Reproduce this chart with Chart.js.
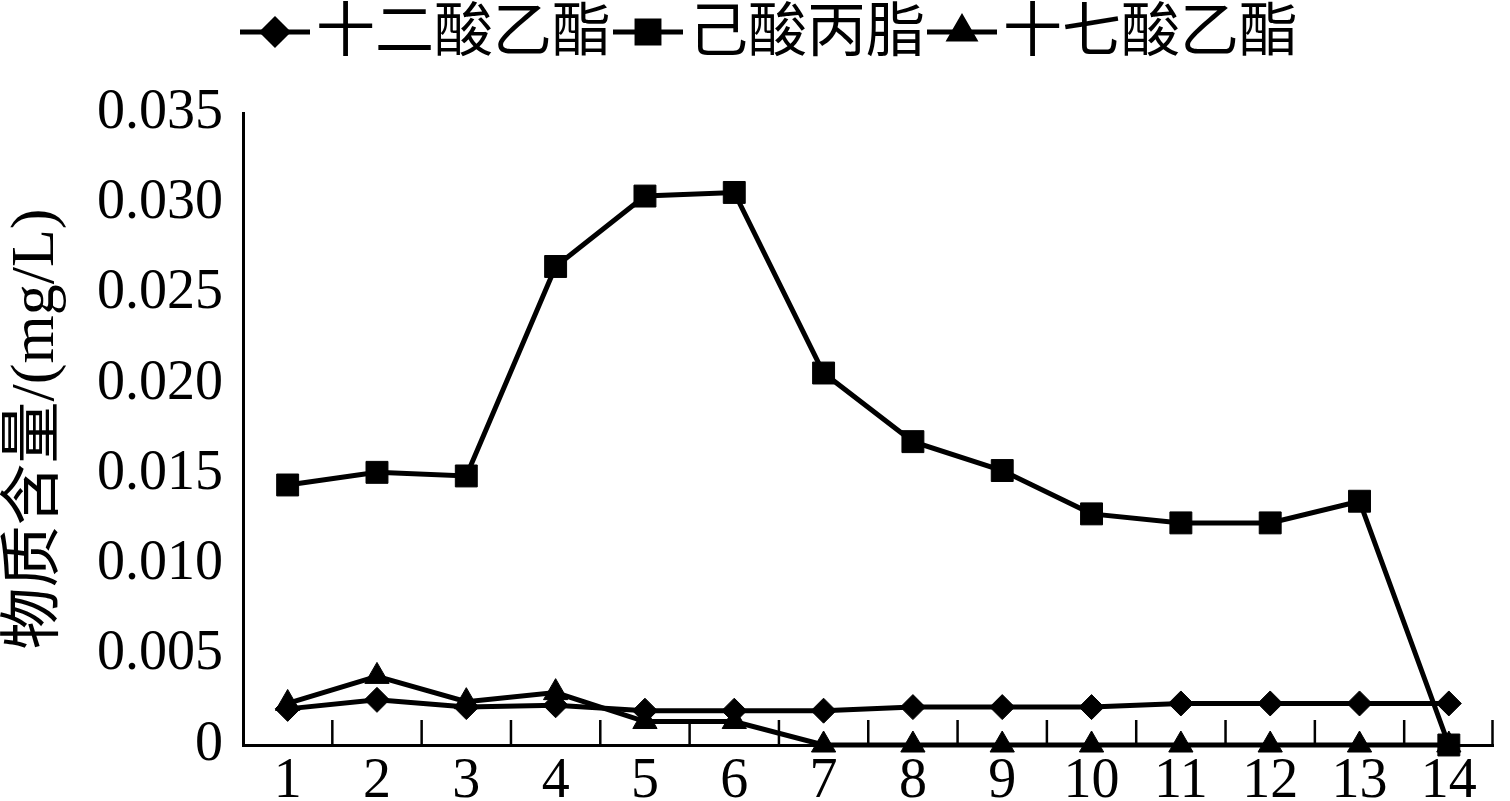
<!DOCTYPE html>
<html>
<head>
<meta charset="utf-8">
<script src="https://cdn.jsdelivr.net/npm/chart.js@4/dist/chart.umd.min.js"></script>
<style>
    html, body { margin: 0; padding: 0; background: #fff; }
</style>
</head>
<body>
<canvas id="chart" width="1510" height="801"></canvas>
<script>
const samples = ['1', '2', '3', '4', '5', '6', '7', '8', '9', '10', '11', '12', '13', '14'];
const ethylLaurate = [0.0020, 0.0025, 0.0021, 0.0022, 0.0019, 0.0019, 0.0019, 0.0021, 0.0021, 0.0021, 0.0023, 0.0023, 0.0023, 0.0023];
const propylHexanoate = [0.0144, 0.0151, 0.0149, 0.0265, 0.0304, 0.0306, 0.0206, 0.0168, 0.0152, 0.0128, 0.0123, 0.0123, 0.0135, 0];
const ethylHeptadecanoate = [0.0023, 0.0038, 0.0024, 0.0029, 0.0013, 0.0013, 0, 0, 0, 0, 0, 0, 0, 0];
const seriesNames = ['十二酸乙酯', '己酸丙脂', '十七酸乙酯'];
const yTickLabels = ['0', '0.005', '0.010', '0.015', '0.020', '0.025', '0.030', '0.035'];
const yTitle = '物质含量/(mg/L)';

const serifFont = "'Liberation Serif', 'Noto Sans CJK SC', serif";
const cjkFont = "'Noto Sans CJK SC', sans-serif";

function makeDataset(label, data, pointStyle, radius) {
    return {
        label: label,
        data: data,
        borderColor: '#000',
        backgroundColor: '#000',
        borderWidth: 5,
        pointStyle: pointStyle,
        pointRadius: radius,
        pointHoverRadius: radius,
        pointBorderWidth: 1,
        pointBorderColor: '#000',
        pointBackgroundColor: '#000',
        tension: 0,
        clip: false
    };
}

// short ticks pointing up from the x axis, between categories
const innerTicks = {
    id: 'innerTicks',
    beforeDatasetsDraw(chart) {
        const ctx = chart.ctx;
        const x = chart.scales.x;
        const bottom = chart.chartArea.bottom;
        ctx.save();
        ctx.strokeStyle = '#000';
        ctx.lineWidth = 2.5;
        for (let i = 1; i <= samples.length; i++) {
            const px = i < samples.length
                ? (x.getPixelForValue(i - 1) + x.getPixelForValue(i)) / 2
                : chart.chartArea.right - 1;
            ctx.beginPath();
            ctx.moveTo(px, bottom);
            ctx.lineTo(px, bottom - 25);
            ctx.stroke();
        }
        ctx.restore();
    }
};

// legend: line with marker, then name
const lineLegend = {
    id: 'lineLegend',
    afterDraw(chart) {
        const ctx = chart.ctx;
        const y = 32;
        let x = 240;
        ctx.save();
        ctx.font = '59px ' + cjkFont;
        ctx.textBaseline = 'middle';
        ctx.fillStyle = '#000';
        chart.data.datasets.forEach(ds => {
            ctx.strokeStyle = '#000';
            ctx.lineWidth = 5;
            ctx.beginPath();
            ctx.moveTo(x, y);
            ctx.lineTo(x + 70, y);
            ctx.stroke();
            Chart.helpers.drawPoint(ctx, {
                pointStyle: ds.pointStyle,
                radius: ds.pointRadius,
                borderWidth: 1
            }, x + 35, y);
            ctx.fill();
            x += 76;
            ctx.fillText(ds.label, x, y - 3);
            x += ctx.measureText(ds.label).width + 2;
        });
        ctx.restore();
    }
};

new Chart(document.getElementById('chart'), {
    type: 'line',
    data: {
        labels: samples,
        datasets: [
            makeDataset(seriesNames[0], ethylLaurate, 'rectRot', 12.5),
            makeDataset(seriesNames[1], propylHexanoate, 'rect', 15.5),
            makeDataset(seriesNames[2], ethylHeptadecanoate, 'triangle', 14)
        ]
    },
    options: {
        responsive: false,
        animation: false,
        layout: { padding: { top: 113, right: 2, left: 0, bottom: 0 } },
        plugins: {
            legend: { display: false },
            tooltip: { enabled: false }
        },
        scales: {
            x: {
                offset: true,
                grid: { display: false, drawTicks: false },
                border: { display: true, color: '#000', width: 3 },
                ticks: {
                    color: '#000',
                    padding: 4,
                    maxRotation: 0,
                    autoSkip: false,
                    font: { family: serifFont, size: 56 }
                },
                afterFit(scale) { scale.height = 56; }
            },
            y: {
                min: 0,
                max: 0.035,
                grid: { display: false, drawTicks: false },
                border: { display: true, color: '#000', width: 3 },
                ticks: {
                    color: '#000',
                    padding: 20,
                    font: { family: serifFont, size: 56 },
                    callback: (value, index) => yTickLabels[index]
                },
                afterBuildTicks(scale) {
                    scale.ticks = yTickLabels.map(t => ({ value: parseFloat(t) }));
                },
                afterFit(scale) { scale.width = 243; },
                title: {
                    display: true,
                    text: yTitle,
                    color: '#000',
                    padding: 0,
                    font: { family: serifFont, size: 62 }
                }
            }
        }
    },
    plugins: [innerTicks, lineLegend]
});
</script>
</body>
</html>
